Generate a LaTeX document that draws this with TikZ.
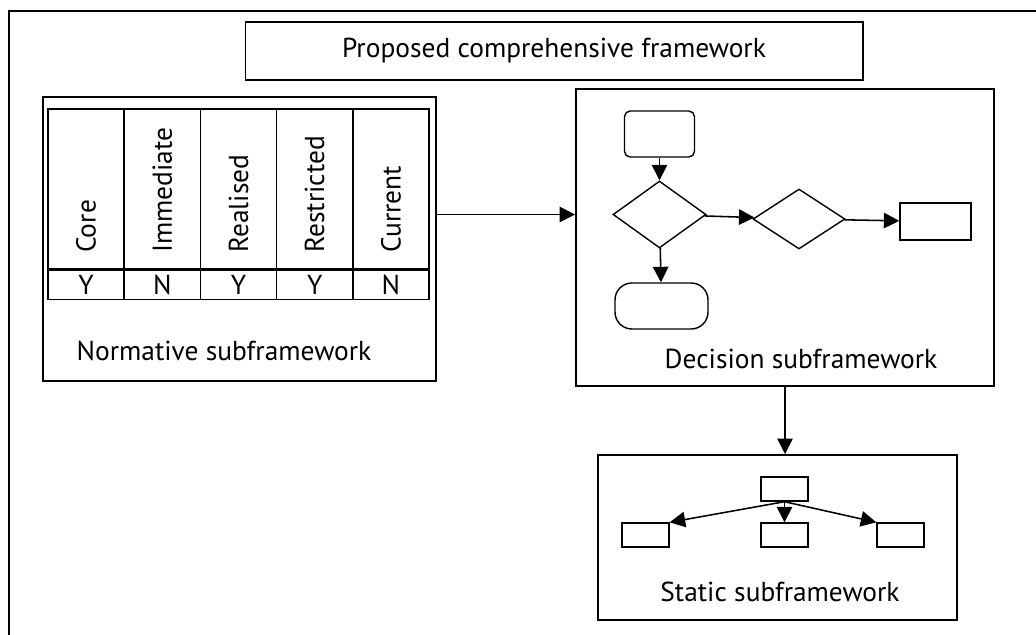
\documentclass[tikz,border=0pt]{standalone}
\usepackage{fontspec}
\setmainfont{PT Sans}
\usetikzlibrary{shapes.geometric, arrows.meta}
\newdimen\px \px=0.025cm
\tikzstyle{box}=[draw, line width=1.4pt, inner sep=0]
\tikzstyle{cell}=[draw, line width=1pt, inner sep=0, minimum width=76.2\px]
\tikzstyle{rbox}=[draw, line width=1pt, rounded corners=4pt, minimum width=70\px, minimum height=46\px]
\tikzstyle{dia}=[diamond, draw, line width=1pt, inner sep=0]
\tikzstyle{act}=[draw, line width=1pt, minimum width=71\px, minimum height=37\px]
\tikzstyle{term}=[draw, line width=1pt, rounded corners=12pt, minimum width=93\px, minimum height=46\px]
\tikzstyle{leaf}=[draw, line width=1pt, minimum width=47\px, minimum height=24\px]
\tikzstyle{arrow} = [line width=1.1pt,-{Triangle[length=11pt,width=11pt]}]

\begin{document}
\begin{tikzpicture}[x=0.025cm,y=-0.025cm,font=\fontsize{19.5}{22}\selectfont]
\useasboundingbox (0,0) rectangle (1036,635);
% outer frame, only top and left edges
\draw[line width=2pt] (9,635) -- (9,11) -- (1036,11);

\node[box, minimum width=617\px, minimum height=58\px] (title) at (554,51) {Proposed comprehensive framework};

% normative
\node[box, minimum width=393\px, minimum height=284\px] (norm) at (239.5,239) {};
\foreach \lab/\val [count=\i] in {Core/Y,Immediate/N,Realised/Y,Restricted/Y,Current/N}{
	\node[cell, minimum height=160\px] (hd\i) at (48+76.2*\i-38.1,189) {};
	\node[cell, minimum height=29\px, anchor=north] (vl\i) at (hd\i.south) {\val};
	\node[rotate=90, anchor=west] (lb\i) at ([yshift=12\px]hd\i.south) {\lab};
}
\node (normtxt) at (224,351) {Normative subframework};

% decision
\node[box, minimum width=418\px, minimum height=297\px] (dec) at (785,237.5) {};
\node[rbox] (start) at (659.5,134) {};
\node[dia, minimum width=93\px, minimum height=67\px] (chk1) at (659.5,214.5) {};
\node[dia, minimum width=92\px, minimum height=60\px] (chk2) at (799,219) {};
\node[act] (act) at (935.5,221.5) {};
\node[term] (stop) at (661.5,306) {};
\node (dectxt) at (801,359) {Decision subframework};

\draw[arrow] (start) -- (chk1);
\draw[arrow] (chk1) -- (chk2);
\draw[arrow] (chk2) -- (act);
\draw[arrow] (chk1) -- (stop);

% static
\node[box, minimum width=359\px, minimum height=165\px] (stat) at (777.5,537.5) {};
\node[leaf] (root) at (784.5,489) {};
\node[leaf] (lf1) at (645.5,535) {};
\node[leaf] (lf2) at (784.5,535) {};
\node[leaf] (lf3) at (900.5,535) {};
\node (stattxt) at (780,592) {Static subframework};

\draw[arrow] (root.south) -- (lf1.north east);
\draw[arrow] (root) -- (lf2);
\draw[arrow] (root.south) -- (lf3.north west);

% between subframeworks
\draw[arrow] (norm.east |- chk1) -- (dec.west |- chk1);
\draw[arrow] (dec.south) -- (dec.south |- stat.north);
\end{tikzpicture}
\end{document}
